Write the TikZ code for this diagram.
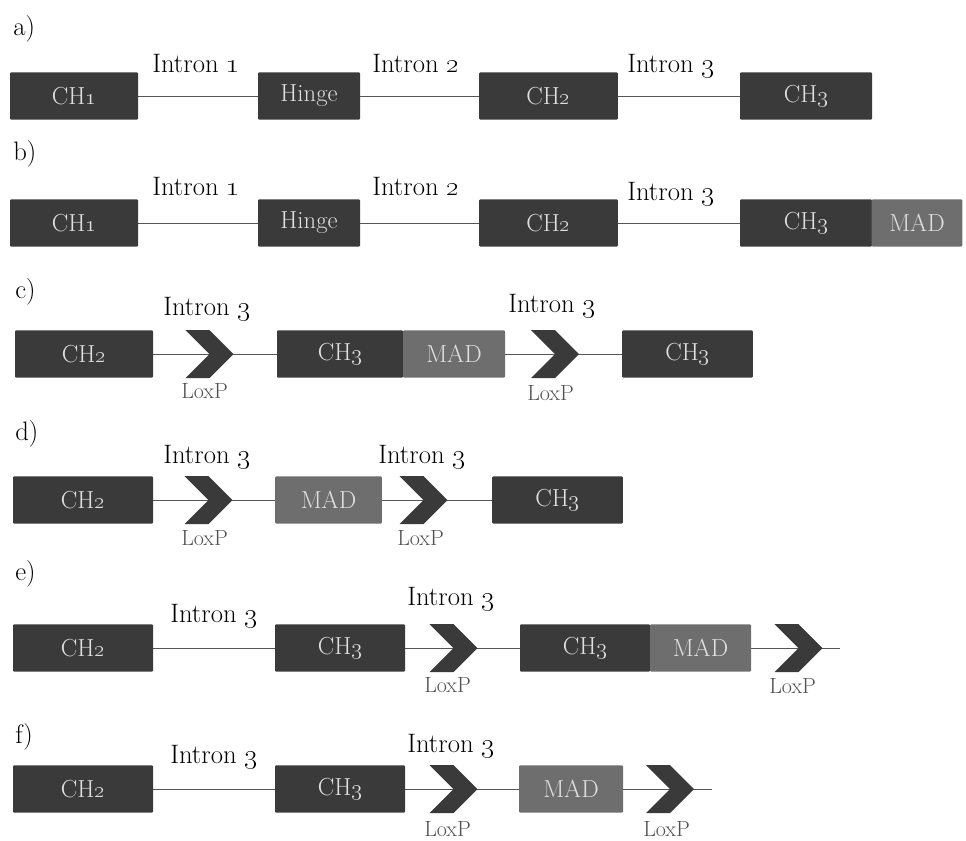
\documentclass[tikz,border=0pt]{standalone}
\usetikzlibrary{shapes.symbols,backgrounds}
\definecolor{exon}{HTML}{3A3A3A}
\definecolor{madgray}{HTML}{6E6E6E}
\definecolor{wire}{HTML}{555555}
\definecolor{loxtext}{HTML}{505050}
\newcommand{\os}[1]{\oldstylenums{#1}}
\begin{document}
\begin{tikzpicture}[x=0.75pt,y=-0.75pt,
  exonbox/.style={rectangle, fill=exon, text=white!88!black, inner sep=0pt,
    minimum height=35.5pt, rounded corners=0.8pt,
    font=\fontsize{18.5}{18.5}\selectfont},
  madbox/.style={exonbox, fill=madgray},
  loxp/.style={signal, signal to=east, signal from=west, signal pointer angle=90,
    fill=exon, inner sep=0pt, minimum width=35pt, minimum height=36pt},
  intron/.style={anchor=base west, inner sep=0pt, font=\fontsize{20}{20}\selectfont},
  loxlabel/.style={anchor=base west, inner sep=0pt, text=loxtext,
    font=\fontsize{16.5}{16.5}\selectfont},
  panel/.style={anchor=base west, inner sep=0pt, font=\fontsize{20}{20}\selectfont},
  wireline/.style={draw=wire, line width=0.7pt}]
\useasboundingbox (0,0) rectangle (966,840);

% ---------- a) ----------
\node[panel] (la) at (13,35) {a)};
\node[exonbox, minimum width=96pt] (a1) at (74,96) {CH\os{1}};
\node[exonbox, minimum width=76.5pt] (a2) at (309,96) {Hinge};
\node[exonbox, minimum width=104pt] (a3) at (548.5,96) {CH\os{2}};
\node[exonbox, minimum width=99pt] (a4) at (806,96) {CH\os{3}};
\node[intron] (ai1) at (152,72) {Intron \os{1}};
\node[intron] (ai2) at (372,72) {Intron \os{2}};
\node[intron] (ai3) at (627,72) {Intron \os{3}};

% ---------- b) ----------
\node[panel] (lb) at (13,160) {b)};
\node[exonbox, minimum width=96pt] (b1) at (74,223) {CH\os{1}};
\node[exonbox, minimum width=76.5pt] (b2) at (309,223) {Hinge};
\node[exonbox, minimum width=104pt] (b3) at (548.5,223) {CH\os{2}};
\node[exonbox, minimum width=99pt] (b4) at (806,223) {CH\os{3}};
\node[madbox, minimum width=68pt] (b5) at (917,223) {MAD};
\node[intron] (bi1) at (152,195) {Intron \os{1}};
\node[intron] (bi2) at (372,195) {Intron \os{2}};
\node[intron] (bi3) at (627,200) {Intron \os{3}};

% ---------- c) ----------
\node[panel] (lc) at (15,298) {c)};
\node[exonbox, minimum width=103.5pt] (c1) at (84,354) {CH\os{2}};
\node[loxp] (cx1) at (209.5,354) {};
\node[exonbox, minimum width=94.5pt] (c2) at (340,354) {CH\os{3}};
\node[madbox, minimum width=76.5pt] (c3) at (454,354) {MAD};
\node[loxp] (cx2) at (555,354) {};
\node[exonbox, minimum width=98pt] (c4) at (687.5,354) {CH\os{3}};
\node[intron] (ci1) at (163,315) {Intron \os{3}};
\node[intron] (ci2) at (508,312) {Intron \os{3}};
\node[loxlabel] (cl1) at (181,398) {LoxP};
\node[loxlabel] (cl2) at (527,400) {LoxP};

% ---------- d) ----------
\node[panel] (ld) at (15,440) {d)};
\node[exonbox, minimum width=105pt] (d1) at (83,500) {CH\os{2}};
\node[loxp] (dx1) at (208.5,500) {};
\node[madbox, minimum width=80pt] (d2) at (328.5,500) {MAD};
\node[loxp] (dx2) at (423.5,500) {};
\node[exonbox, minimum width=98pt] (d3) at (557.5,500) {CH\os{3}};
\node[intron] (di1) at (163,463) {Intron \os{3}};
\node[intron] (di2) at (378,463) {Intron \os{3}};
\node[loxlabel] (dl1) at (181,545) {LoxP};
\node[loxlabel] (dl2) at (397,545) {LoxP};

% ---------- e) ----------
\node[panel] (le) at (15,580) {e)};
\node[exonbox, minimum width=105pt] (e1) at (83,648) {CH\os{2}};
\node[exonbox, minimum width=97.5pt] (e2) at (340,648) {CH\os{3}};
\node[loxp] (ex1) at (453.5,648) {};
\node[exonbox, minimum width=97.5pt] (e3) at (585,648) {CH\os{3}};
\node[madbox, minimum width=75.75pt] (e4) at (700.5,648) {MAD};
\node[loxp] (ex2) at (798.5,648) {};
\coordinate (eend) at (840,648);
\node[intron] (ei1) at (170,622) {Intron \os{3}};
\node[intron] (ei2) at (407,605) {Intron \os{3}};
\node[loxlabel] (el1) at (424,692) {LoxP};
\node[loxlabel] (el2) at (769,693) {LoxP};

% ---------- f) ----------
\node[panel] (lf) at (15,743) {f)};
\node[exonbox, minimum width=105pt] (f1) at (83,789) {CH\os{2}};
\node[exonbox, minimum width=97.5pt] (f2) at (340,789) {CH\os{3}};
\node[loxp] (fx1) at (453.5,789) {};
\node[madbox, minimum width=78pt] (f3) at (571,789) {MAD};
\node[loxp] (fx2) at (670,789) {};
\coordinate (fend) at (712,789);
\node[intron] (fi1) at (170,763) {Intron \os{3}};
\node[intron] (fi2) at (407,752) {Intron \os{3}};
\node[loxlabel] (fl1) at (424,836) {LoxP};
\node[loxlabel] (fl2) at (643,836) {LoxP};

% ---------- intron lines, behind the blocks ----------
\begin{scope}[on background layer]
  \draw[wireline] (a1.east) -- (a2.west);
  \draw[wireline] (a2.east) -- (a3.west);
  \draw[wireline] (a3.east) -- (a4.west);
  \draw[wireline] (b1.east) -- (b2.west);
  \draw[wireline] (b2.east) -- (b3.west);
  \draw[wireline] (b3.east) -- (b4.west);
  \draw[wireline] (c1.east) -- (cx1.center) -- (c2.west);
  \draw[wireline] (c3.east) -- (cx2.center) -- (c4.west);
  \draw[wireline] (d1.east) -- (dx1.center) -- (d2.west);
  \draw[wireline] (d2.east) -- (dx2.center) -- (d3.west);
  \draw[wireline] (e1.east) -- (e2.west);
  \draw[wireline] (e2.east) -- (ex1.center) -- (e3.west);
  \draw[wireline] (e4.east) -- (ex2.center) -- (eend);
  \draw[wireline] (f1.east) -- (f2.west);
  \draw[wireline] (f2.east) -- (fx1.center) -- (f3.west);
  \draw[wireline] (f3.east) -- (fx2.center) -- (fend);
\end{scope}
\end{tikzpicture}
\end{document}
